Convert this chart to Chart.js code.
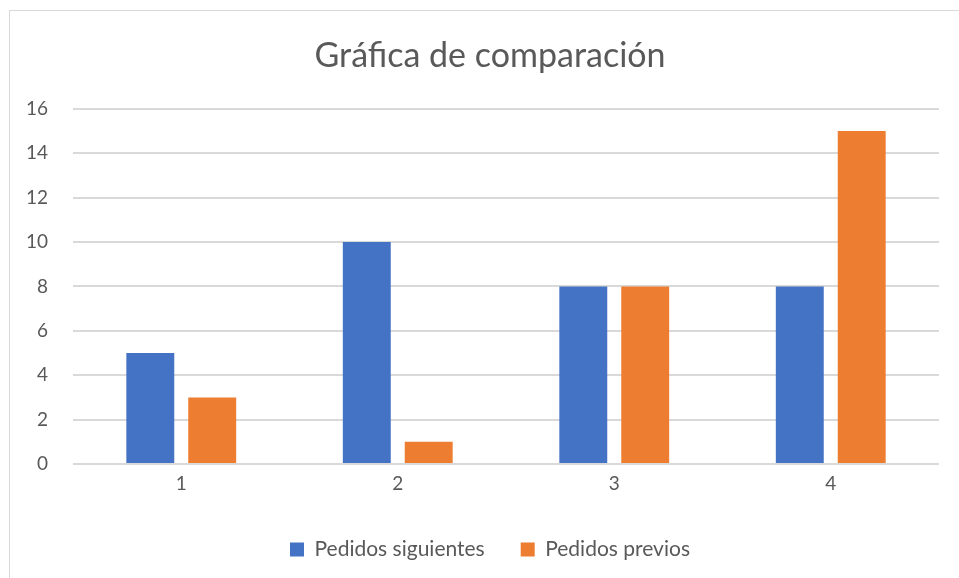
<!DOCTYPE html>
<html>
<head>
<meta charset="utf-8">
<script src="https://cdn.jsdelivr.net/npm/chart.js@4"></script>
<style>
  html, body { margin: 0; padding: 0; background: #fff; overflow: hidden; }
  body { width: 959px; height: 578px; position: relative; }
  #box {
    position: absolute; left: 9px; top: 10px;
    width: 962px; height: 600px;
    border: 1px solid #d9d9d9; box-sizing: border-box;
  }
  #wrap { position: absolute; left: 0; top: 0; width: 960px; height: 567px; }
</style>
</head>
<body>
<div id="box">
  <div id="wrap"><canvas id="chart"></canvas></div>
</div>
<script>
// Chart data
const categories = ['1', '2', '3', '4'];
const siguientes = [5, 10, 8, 8];
const previos    = [3, 1, 8, 15];
const yTicks     = [0, 2, 4, 6, 8, 10, 12, 14, 16];

const textColor = '#595959';
const gridColor = '#d9d9d9';
const fontFamily = 'Lato, "Open Sans", sans-serif';

// Center title and legend on the whole chart box, not only the plot side
const centerBoxes = {
  id: 'centerBoxes',
  afterLayout(chart) {
    [chart.titleBlock, chart.legend].forEach((b) => {
      if (!b) return;
      b.left = 0;
      b.right = chart.width;
    });
  },
};

new Chart(document.getElementById('chart'), {
  type: 'bar',
  data: {
    labels: categories,
    datasets: [
      {
        label: 'Pedidos siguientes',
        data: siguientes,
        backgroundColor: '#4472c4',
        categoryPercentage: 0.572,
        barPercentage: 0.774,
      },
      {
        label: 'Pedidos previos',
        data: previos,
        backgroundColor: '#ed7d31',
        categoryPercentage: 0.572,
        barPercentage: 0.774,
      },
    ],
  },
  options: {
    responsive: true,
    maintainAspectRatio: false,
    animation: false,
    layout: { padding: { left: 0, right: 31, top: 25, bottom: 8 } },
    plugins: {
      title: {
        display: true,
        text: 'Gráfica de comparación',
        color: textColor,
        font: { family: fontFamily, size: 34, weight: 'normal' },
        padding: { top: 0, bottom: 32 },
      },
      legend: {
        position: 'bottom',
        labels: {
          color: textColor,
          font: { family: fontFamily, size: 21 },
          boxWidth: 14,
          boxHeight: 14,
          padding: 36,
        },
      },
      tooltip: { enabled: false },
    },
    scales: {
      x: {
        grid: { display: false },
        border: { display: false },
        ticks: { color: textColor, font: { family: fontFamily, size: 19 }, padding: 0 },
        afterFit: (s) => { s.height = 39; },
      },
      y: {
        min: 0,
        max: 16,
        afterBuildTicks: (s) => { s.ticks = yTicks.map((v) => ({ value: v })); },
        grid: { color: gridColor, lineWidth: 2, drawTicks: false },
        border: { display: false },
        ticks: { color: textColor, font: { family: fontFamily, size: 19 }, padding: 25 },
        afterFit: (s) => { s.width = 63; },
      },
    },
  },
  plugins: [centerBoxes],
});
</script>
</body>
</html>
